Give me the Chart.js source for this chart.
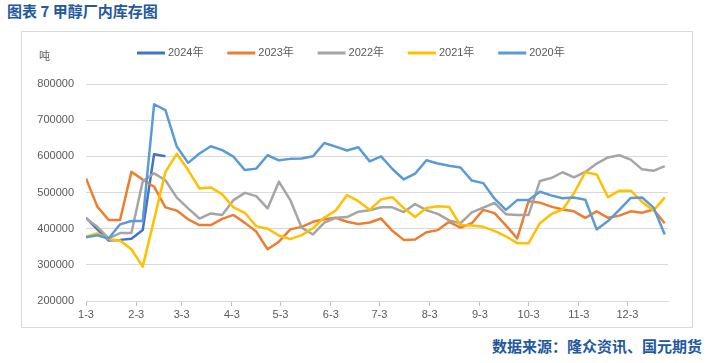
<!DOCTYPE html>
<html>
<head>
<meta charset="utf-8">
<script src="https://cdn.jsdelivr.net/npm/chart.js@4/dist/chart.umd.min.js"></script>
<style>
  body { margin: 0; width: 710px; height: 363px; background: #fff; position: relative; overflow: hidden; }
  #title { position: absolute; left: 7px; top: 0px; font: bold 15px 'Noto Sans CJK SC', sans-serif; color: #22589E; white-space: nowrap; }
  #box { position: absolute; left: 21px; top: 31px; width: 670px; height: 295px; border: 1px solid #D9D9D9; }
  #source { position: absolute; right: 8px; top: 335px; font: bold 15px 'Noto Sans CJK SC', sans-serif; color: #22589E; white-space: nowrap; }
  canvas { display: block; }
</style>
</head>
<body>
<div id="title">图表 7 甲醇厂内库存图</div>
<div id="box"><canvas id="grafico" width="670" height="295"></canvas></div>
<div id="source">数据来源：隆众资讯、国元期货</div>
<script>
// 月份刻度（日期轴）
const monthLabels = ['1-3', '2-3', '3-3', '4-3', '5-3', '6-3', '7-3', '8-3', '9-3', '10-3', '11-3', '12-3'];
const yTicks = [200000, 300000, 400000, 500000, 600000, 700000, 800000];
const firstWeek = '1-3';

// 各年份周度库存（吨）
const s2024 = [430000, 398000, 367000, 369000, 372000, 396000, 606000, 600000];
const s2023 = [539000, 461000, 424000, 424000, 557000, 536000, 516000, 459000, 450000, 426000, 410000, 410000, 427000, 438000, 416000, 392000, 343000, 364000,
  398000, 405000, 419000, 426000, 430000, 419000, 413000, 417000, 428000, 394000, 369000, 370000, 390000, 396000, 419000, 403000, 415000,
  452000, 443000, 409000, 373000, 476000, 472000, 461000, 453000, 448000, 430000, 448000, 430000, 436000, 448000, 444000, 453000, 415000];
const s2022 = [428000, 405000, 373000, 388000, 388000, 531000, 553000, 534000, 486000, 456000, 428000, 442000, 438000, 479000, 499000, 490000, 456000, 530000,
  479000, 403000, 384000, 417000, 430000, 432000, 447000, 451000, 459000, 459000, 446000, 468000, 451000, 441000, 423000, 415000, 445000,
  458000, 471000, 440000, 438000, 438000, 532000, 540000, 556000, 542000, 557000, 580000, 597000, 603000, 591000, 564000, 560000, 573000];
const s2021 = [378000, 387000, 371000, 367000, 343000, 295000, 425000, 557000, 607000, 562000, 511000, 514000, 495000, 459000, 444000, 407000, 400000, 381000,
  371000, 382000, 401000, 431000, 450000, 493000, 476000, 452000, 481000, 487000, 457000, 432000, 457000, 462000, 460000, 410000, 409000,
  405000, 394000, 379000, 360000, 360000, 415000, 440000, 453000, 498000, 556000, 550000, 487000, 505000, 505000, 474000, 450000, 486000];
const s2020 = [376000, 382000, 373000, 412000, 421000, 421000, 744000, 728000, 627000, 582000, 608000, 628000, 617000, 599000, 562000, 566000, 603000, 589000,
  593000, 594000, 600000, 637000, 627000, 616000, 625000, 586000, 600000, 565000, 536000, 552000, 589000, 580000, 574000, 569000, 533000,
  526000, 483000, 452000, 479000, 479000, 502000, 492000, 484000, 486000, 480000, 398000, 421000, 452000, 485000, 486000, 459000, 384000];

const seriesNames = ['2024年', '2023年', '2022年', '2021年', '2020年'];
const seriesColors = ['#4472C4', '#ED7D31', '#A5A5A5', '#FFC000', '#5B9BD5'];
const seriesData = [s2024, s2023, s2022, s2021, s2020];

// 日期 -> 一年中的第几天
function diaDelAno(md) {
  const [m, d] = md.split('-').map(Number);
  return Math.round((new Date(2023, m - 1, d) - new Date(2023, 0, 1)) / 86400000);
}
const monthDays = monthLabels.map(diaDelAno);
const startDay = diaDelAno(firstWeek);

const fuente = "'Liberation Sans', 'Noto Sans CJK SC', sans-serif";

const leyenda = {
  id: 'leyenda',
  afterDraw(chart) {
    const ctx = chart.ctx;
    ctx.save();
    ctx.font = '11px ' + fuente;
    ctx.fillStyle = '#595959';
    ctx.textBaseline = 'middle';
    ctx.fillText('吨', 17, 25);
    seriesNames.forEach((name, i) => {
      const x0 = 115 + i * 90.3;
      ctx.strokeStyle = seriesColors[i];
      ctx.lineWidth = 3;
      ctx.beginPath();
      ctx.moveTo(x0, 21);
      ctx.lineTo(x0 + 28, 21);
      ctx.stroke();
      ctx.fillStyle = '#595959';
      ctx.fillText(name, x0 + 31, 21);
    });
    ctx.restore();
  }
};

new Chart(document.getElementById('grafico'), {
  type: 'line',
  data: {
    datasets: seriesData.map((arr, i) => ({
      label: seriesNames[i],
      data: arr.map((v, k) => ({ x: startDay + k * 7, y: v })),
      borderColor: seriesColors[i],
      backgroundColor: seriesColors[i],
      borderWidth: 2.5,
      pointRadius: 0,
      tension: 0,
      borderJoinStyle: 'round',
      order: seriesData.length - i
    }))
  },
  options: {
    responsive: false,
    animation: false,
    devicePixelRatio: 1,
    layout: { padding: { top: 52, right: 24, left: 0, bottom: 0 } },
    plugins: { legend: { display: false }, tooltip: { enabled: false } },
    scales: {
      x: {
        type: 'linear',
        min: startDay,
        max: 361,
        afterFit: s => { s.height = 26; },
        afterBuildTicks: s => { s.ticks = monthDays.map(v => ({ value: v })); },
        ticks: {
          autoSkip: false,
          maxRotation: 0,
          padding: 2,
          color: '#595959',
          font: { size: 11, family: fuente },
          callback: v => monthLabels[monthDays.indexOf(v)]
        },
        grid: { drawOnChartArea: false, drawTicks: true, tickLength: 5, color: '#BFBFBF' },
        border: { color: '#D9D9D9' }
      },
      y: {
        min: 200000,
        max: 800000,
        afterFit: s => { s.width = 64; },
        afterBuildTicks: s => { s.ticks = yTicks.map(v => ({ value: v })); },
        ticks: {
          padding: 12,
          color: '#595959',
          font: { size: 11, family: fuente },
          callback: v => String(v)
        },
        grid: { color: '#D9D9D9', drawTicks: false },
        border: { display: false }
      }
    }
  },
  plugins: [leyenda]
});
</script>
</body>
</html>
